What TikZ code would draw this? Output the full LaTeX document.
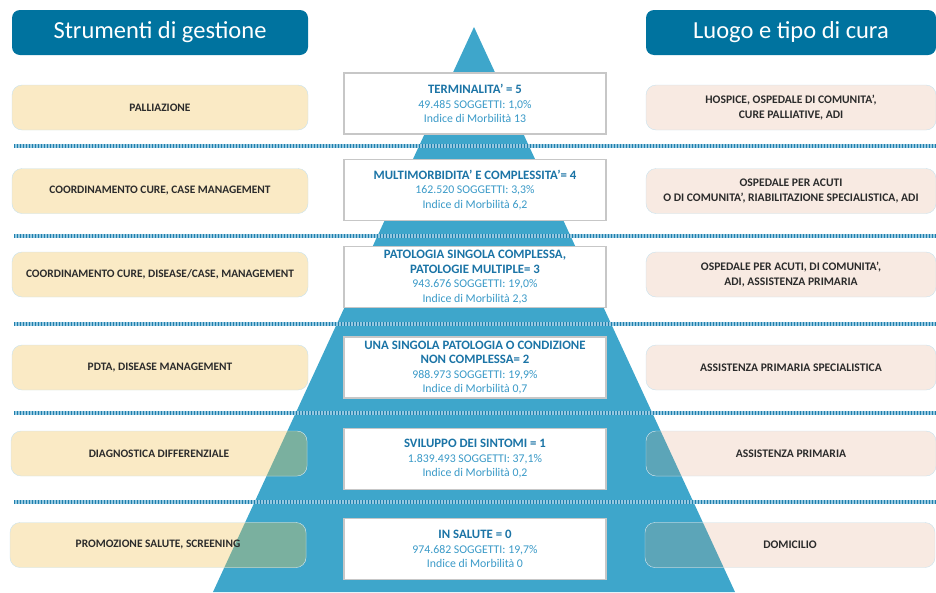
\documentclass[tikz,border=0pt]{standalone}
\usepackage{fontspec}
\setmainfont{Carlito}
\usetikzlibrary{positioning}

\definecolor{hdrblue}{HTML}{00739F}
\definecolor{pyrblue}{HTML}{3EA6CB}
\definecolor{toolfill}{HTML}{FAEAC5}
\definecolor{placefill}{HTML}{F8EAE2}
\definecolor{toolmix}{HTML}{7AB09F}
\definecolor{placemix}{HTML}{5CA5B8}
\definecolor{boxedge}{HTML}{C8E2EE}
\definecolor{titleblue}{HTML}{1B74A6}
\definecolor{textblue}{HTML}{3A9AC8}
\definecolor{textdark}{HTML}{2B2B2B}
\definecolor{sepdark}{HTML}{1E7FAD}
\definecolor{seplight}{HTML}{95C8E0}

\newcommand{\lvtitle}[1]{{\bfseries\color{titleblue}\fontsize{12.8}{14.5}\selectfont#1}}

\begin{document}
\begin{tikzpicture}[x=1pt,y=-1pt,
	header/.style={fill=hdrblue,rounded corners=8pt,text=white,minimum height=45pt,inner sep=0pt,font=\fontsize{24.5}{26}\selectfont},
	tool/.style={draw=boxedge,fill=toolfill,rounded corners=10pt,minimum width=296pt,minimum height=45pt,inner sep=0pt,align=center,text=textdark,font=\bfseries\fontsize{11.4}{14}\selectfont,path picture={\fill[toolmix] (apex) -- (bl) -- (br) -- cycle;}},
	place/.style={draw=boxedge,fill=placefill,rounded corners=10pt,minimum width=290pt,minimum height=45pt,inner sep=0pt,align=center,text=textdark,font=\bfseries\fontsize{11.6}{14.5}\selectfont,path picture={\fill[placemix] (apex) -- (bl) -- (br) -- cycle;}},
	level/.style={draw=black!22,line width=1.3pt,fill=white,minimum width=262pt,minimum height=61pt,inner sep=0pt,align=center,text=textblue,font=\fontsize{11.8}{14.5}\selectfont}]
	\useasboundingbox (0,0) rectangle (936,592);

	% piramide
	\coordinate (apex) at (474,27);
	\coordinate (bl) at (213,592);
	\coordinate (br) at (735,592);
	\fill[pyrblue] (apex) -- (bl) -- (br) -- cycle;

	% separatori
	\foreach \y in {146,236,324,413,502} {
		\draw[seplight,line width=3.5pt] (14,\y) -- (936,\y);
		\draw[sepdark,line width=3.5pt,dash pattern=on 1.2pt off 1.8pt] (14,\y) -- (936,\y);
	}

	\node[header,minimum width=296pt] (hl) at (160,32.5) {Strumenti di gestione};
	\node[header,minimum width=290pt] (hr) at (791,32.5) {Luogo e tipo di cura};

	\node[tool] (t1) at (160,107.5) {PALLIAZIONE};
	\node[tool] (t2) at (160,191) {COORDINAMENTO CURE, CASE MANAGEMENT};
	\node[tool] (t3) at (160,274.5) {COORDINAMENTO CURE, DISEASE/CASE, MANAGEMENT};
	\node[tool] (t4) at (160,367.5) {PDTA, DISEASE MANAGEMENT};
	\node[tool] (t5) at (159,453.5) {DIAGNOSTICA DIFFERENZIALE};
	\node[tool] (t6) at (158,545) {PROMOZIONE SALUTE, SCREENING};

	\node[place] (p1) at (791,107.5) {HOSPICE, OSPEDALE DI COMUNITA',\\CURE PALLIATIVE, ADI};
	\node[place] (p2) at (791,191) {OSPEDALE PER ACUTI\\O DI COMUNITA', RIABILITAZIONE SPECIALISTICA, ADI};
	\node[place] (p3) at (791,274.5) {OSPEDALE PER ACUTI, DI COMUNITA',\\ADI, ASSISTENZA PRIMARIA};
	\node[place] (p4) at (791,367.5) {ASSISTENZA PRIMARIA SPECIALISTICA};
	\node[place] (p5) at (791,453.5) {ASSISTENZA PRIMARIA};
	\node[place] (p6) at (790,545) {DOMICILIO};

	\node[level] (m1) at (475,103.5) {\lvtitle{TERMINALITA' = 5}\\49.485 SOGGETTI: 1,0\%\\Indice di Morbilità 13};
	\node[level] (m2) at (475,190) {\lvtitle{MULTIMORBIDITA' E COMPLESSITA'= 4}\\162.520 SOGGETTI: 3,3\%\\Indice di Morbilità 6,2};
	\node[level] (m3) at (475,277) {\lvtitle{PATOLOGIA SINGOLA COMPLESSA,}\\\lvtitle{PATOLOGIE MULTIPLE= 3}\\943.676 SOGGETTI: 19,0\%\\Indice di Morbilità 2,3};
	\node[level] (m4) at (475,367.5) {\lvtitle{UNA SINGOLA PATOLOGIA O CONDIZIONE}\\\lvtitle{NON COMPLESSA= 2}\\988.973 SOGGETTI: 19,9\%\\Indice di Morbilità 0,7};
	\node[level] (m5) at (475,459) {\lvtitle{SVILUPPO DEI SINTOMI = 1}\\1.839.493 SOGGETTI: 37,1\%\\Indice di Morbilità 0,2};
	\node[level] (m6) at (475,549) {\lvtitle{IN SALUTE = 0}\\974.682 SOGGETTI: 19,7\%\\Indice di Morbilità 0};
\end{tikzpicture}
\end{document}
